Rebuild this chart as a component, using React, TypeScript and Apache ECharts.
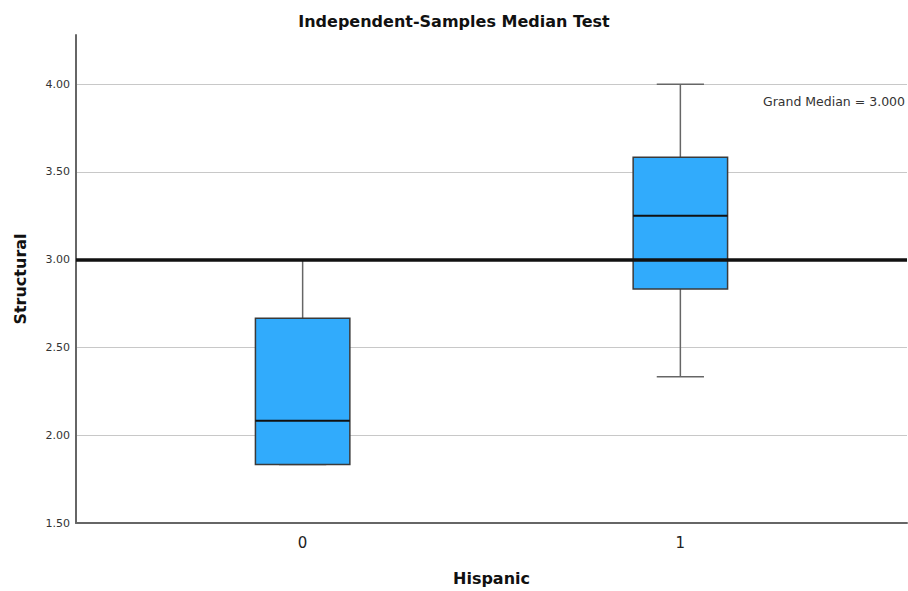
import React, { useEffect, useRef } from "react";
import * as echarts from "echarts";

const categories = [0, 1];
const mins = [1.833, 2.333];
const q1s = [1.833, 2.833];
const medians = [2.083, 3.25];
const q3s = [2.667, 3.583];
const maxs = [3.0, 4.0];
const grandMedian = 3.0;
const yTicks = [1.5, 2.0, 2.5, 3.0, 3.5, 4.0];

const FONT = "'DejaVu Sans', 'Noto Sans', sans-serif";

export default function App() {
  const ref = useRef<HTMLDivElement>(null);
  useEffect(() => {
    if (!ref.current) return;
    const chart = echarts.init(ref.current, null, { renderer: "svg" });
    const boxData = categories.map((c, i) => [c, mins[i], q1s[i], medians[i], q3s[i], maxs[i]]);
    chart.setOption({
      animation: false,
      backgroundColor: "#ffffff",
      title: {
        text: "Independent-Samples Median Test",
        left: "center",
        top: 8,
        textStyle: { fontFamily: FONT, fontSize: 16, fontWeight: "bold", color: "#111" },
      },
      grid: { left: 76, right: 1, top: 35, bottom: 68 },
      xAxis: {
        type: "value",
        min: -0.6,
        max: 1.6,
        name: "Hispanic",
        nameLocation: "middle",
        nameGap: 47,
        nameTextStyle: { fontFamily: FONT, fontSize: 16, fontWeight: "bold", color: "#111" },
        axisLine: { show: true, onZero: false, lineStyle: { color: "#666", width: 2 } },
        axisTick: { show: false },
        splitLine: { show: false },
        axisLabel: {
          fontFamily: FONT,
          fontSize: 15,
          color: "#222",
          margin: 12,
          showMinLabel: false,
          showMaxLabel: false,
          formatter: (v: number) => (categories.indexOf(v) >= 0 ? String(v) : ""),
        },
      },
      yAxis: {
        type: "value",
        min: yTicks[0],
        max: 4.28,
        interval: 0.5,
        name: "Structural",
        nameLocation: "middle",
        nameGap: 48,
        nameTextStyle: { fontFamily: FONT, fontSize: 16, fontWeight: "bold", color: "#111" },
        axisLine: { show: true, onZero: false, lineStyle: { color: "#666", width: 2 } },
        axisTick: { show: false },
        splitLine: { show: true, showMinLine: false, showMaxLine: false, lineStyle: { color: "#c8c8c8", width: 1.2 } },
        axisLabel: {
          fontFamily: FONT,
          fontSize: 11,
          color: "#333",
          margin: 6,
          showMaxLabel: false,
          formatter: (v: number) => (yTicks.some((t) => Math.abs(t - v) < 1e-6) ? v.toFixed(2) : ""),
        },
      },
      series: [
        {
          type: "custom",
          data: boxData,
          z: 2,
          renderItem: (params: any, api: any) => {
            const x = api.value(0);
            const vMin = api.value(1);
            const vQ1 = api.value(2);
            const vMed = api.value(3);
            const vQ3 = api.value(4);
            const vMax = api.value(5);
            const bw = api.size([0.25, 0])[0];
            const cw = bw / 2;
            const pMin = api.coord([x, vMin]);
            const pQ1 = api.coord([x, vQ1]);
            const pMed = api.coord([x, vMed]);
            const pQ3 = api.coord([x, vQ3]);
            const pMax = api.coord([x, vMax]);
            const cx = pMed[0];
            const whisker = { stroke: "#666", lineWidth: 1.5 };
            return {
              type: "group",
              children: [
                { type: "line", shape: { x1: cx, y1: pQ3[1], x2: cx, y2: pMax[1] }, style: whisker },
                { type: "line", shape: { x1: cx, y1: pQ1[1], x2: cx, y2: pMin[1] }, style: whisker },
                { type: "line", shape: { x1: cx - cw / 2, y1: pMax[1], x2: cx + cw / 2, y2: pMax[1] }, style: whisker },
                { type: "line", shape: { x1: cx - cw / 2, y1: pMin[1], x2: cx + cw / 2, y2: pMin[1] }, style: whisker },
                {
                  type: "rect",
                  shape: { x: cx - bw / 2, y: pQ3[1], width: bw, height: pQ1[1] - pQ3[1] },
                  style: { fill: "#31abfc", stroke: "#3a3a3a", lineWidth: 1.5 },
                },
                {
                  type: "line",
                  shape: { x1: cx - bw / 2, y1: pMed[1], x2: cx + bw / 2, y2: pMed[1] },
                  style: { stroke: "#111", lineWidth: 2 },
                },
              ],
            };
          },
        },
        {
          type: "line",
          data: [],
          z: 5,
          markLine: {
            silent: true,
            symbol: "none",
            label: { show: false },
            lineStyle: { color: "#111", width: 3.5, type: "solid" },
            data: [{ yAxis: grandMedian }],
          },
        },
      ],
      graphic: [
        {
          type: "text",
          right: 3,
          top: 95,
          style: {
            text: "Grand Median = " + grandMedian.toFixed(3),
            fontFamily: FONT,
            fontSize: 12.5,
            fill: "#333",
          },
        },
      ],
    });
    return () => chart.dispose();
  }, []);
  return (
    <div
      ref={ref}
      style={{ position: "fixed", left: 0, top: 0, width: 908, height: 591 }}
    />
  );
}
